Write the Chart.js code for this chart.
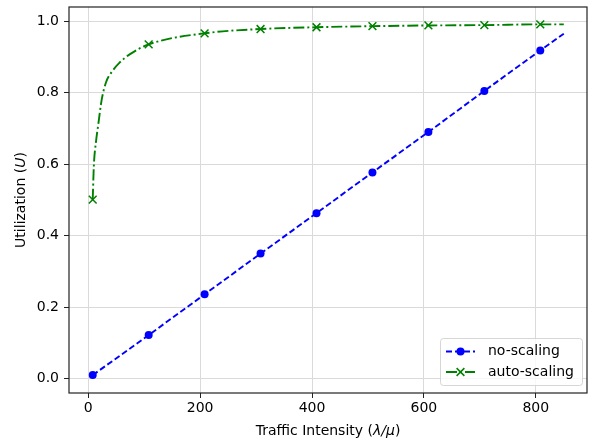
<!DOCTYPE html>
<html>
<head>
<meta charset="utf-8">
<script src="https://cdn.jsdelivr.net/npm/chart.js@4.4.1/dist/chart.umd.min.js"></script>
<style>
  html, body { margin: 0; padding: 0; background: #fff; }
  #wrap { width: 594px; height: 441px; }
</style>
</head>
<body>
<div id="wrap"><canvas id="utilChart" width="594" height="441"></canvas></div>
<script>
// intensities that carry a marker
const markerIntensity = [8, 108, 208, 308, 408, 508, 608, 708, 808];

// no-scaling utilization
const noScalingX = [8, 108, 208, 308, 408, 508, 608, 708, 808, 850];
const noScalingU = [0.010, 0.122, 0.236, 0.350, 0.463, 0.577, 0.690, 0.805, 0.918, 0.965];

// auto-scaling utilization
const autoScalingX = [8, 10, 14, 18, 24, 32, 42, 56, 74, 108, 208, 308, 408, 508, 608, 708, 808, 850];
const autoScalingU = [0.501, 0.595, 0.665, 0.712, 0.780, 0.830, 0.858, 0.884, 0.907, 0.935, 0.966, 0.978, 0.983, 0.986, 0.988, 0.989, 0.991, 0.991];

const xTicks = [0, 200, 400, 600, 800];
const yTicks = [0.0, 0.2, 0.4, 0.6, 0.8, 1.0];

const FONT = "'DejaVu Sans', sans-serif";
const FONT_SIZE = 14;
const BLUE = '#0000ff';
const GREEN = '#008000';

const toPoints = (xs, ys) => xs.map((x, i) => ({ x: x, y: ys[i] }));
const markerRadius = (xs, r) => xs.map(x => (markerIntensity.includes(x) ? r : 0));

// draw a string made of normal / italic pieces, centred on (cx, cy)
function drawMixed(ctx, parts, cx, cy) {
  ctx.save();
  let total = 0;
  parts.forEach(p => {
    ctx.font = (p.italic ? 'oblique ' : '') + FONT_SIZE + 'px ' + FONT;
    p.w = ctx.measureText(p.text).width;
    total += p.w;
  });
  let x = cx - total / 2;
  ctx.fillStyle = '#000';
  ctx.textBaseline = 'middle';
  ctx.textAlign = 'left';
  parts.forEach(p => {
    ctx.font = (p.italic ? 'oblique ' : '') + FONT_SIZE + 'px ' + FONT;
    ctx.fillText(p.text, x, cy);
    x += p.w;
  });
  ctx.restore();
}

function drawCross(ctx, x, y, h) {
  ctx.beginPath();
  ctx.moveTo(x - h, y - h); ctx.lineTo(x + h, y + h);
  ctx.moveTo(x - h, y + h); ctx.lineTo(x + h, y - h);
  ctx.stroke();
}

const framePlugin = {
  id: 'frame',
  afterDraw(chart) {
    const ctx = chart.ctx;
    const a = chart.chartArea;

    // axes box
    ctx.save();
    ctx.strokeStyle = '#222';
    ctx.lineWidth = 1.2;
    ctx.strokeRect(a.left, a.top, a.right - a.left, a.bottom - a.top);
    ctx.restore();

    // axis titles
    drawMixed(ctx, [
      { text: 'Traffic Intensity (' },
      { text: 'λ/μ', italic: true },
      { text: ')' }
    ], (a.left + a.right) / 2, 431);

    ctx.save();
    ctx.translate(21, (a.top + a.bottom) / 2);
    ctx.rotate(-Math.PI / 2);
    drawMixed(ctx, [
      { text: 'Utilization (' },
      { text: 'U', italic: true },
      { text: ')' }
    ], 0, 0);
    ctx.restore();

    // legend
    const bx = 440, by = 338, bw = 142, bh = 47;
    ctx.save();
    ctx.globalAlpha = 0.8;
    ctx.fillStyle = '#fff';
    ctx.strokeStyle = '#cccccc';
    ctx.lineWidth = 1;
    ctx.beginPath();
    ctx.roundRect(bx + 0.5, by + 0.5, bw, bh, 3);
    ctx.fill();
    ctx.stroke();
    ctx.restore();

    const rows = [
      { label: 'no-scaling', color: BLUE, dash: [6, 3], y: 351.5, marker: 'circle' },
      { label: 'auto-scaling', color: GREEN, dash: [11, 3, 2, 3], y: 372, marker: 'cross' }
    ];
    rows.forEach(r => {
      ctx.save();
      ctx.strokeStyle = r.color;
      ctx.fillStyle = r.color;
      ctx.lineWidth = 1.9;
      ctx.setLineDash(r.dash);
      ctx.beginPath();
      ctx.moveTo(446, r.y);
      ctx.lineTo(475, r.y);
      ctx.stroke();
      ctx.setLineDash([]);
      if (r.marker === 'circle') {
        ctx.beginPath();
        ctx.arc(460.5, r.y, 4, 0, Math.PI * 2);
        ctx.fill();
      } else {
        ctx.lineWidth = 1.5;
        drawCross(ctx, 460.5, r.y, 3.9);
      }
      ctx.fillStyle = '#000';
      ctx.font = FONT_SIZE + 'px ' + FONT;
      ctx.textBaseline = 'middle';
      ctx.fillText(r.label, 488, r.y);
      ctx.restore();
    });
  }
};

const ctx = document.getElementById('utilChart').getContext('2d');
new Chart(ctx, {
  type: 'line',
  data: {
    datasets: [
      {
        label: 'no-scaling',
        data: toPoints(noScalingX, noScalingU),
        borderColor: BLUE,
        backgroundColor: BLUE,
        borderWidth: 1.9,
        borderDash: [6, 3],
        pointStyle: 'circle',
        pointRadius: markerRadius(noScalingX, 4),
        pointBorderWidth: 0,
        tension: 0,
        fill: false
      },
      {
        label: 'auto-scaling',
        data: toPoints(autoScalingX, autoScalingU),
        borderColor: GREEN,
        backgroundColor: GREEN,
        borderWidth: 1.9,
        borderDash: [11, 3, 2, 3],
        pointStyle: 'crossRot',
        pointRadius: markerRadius(autoScalingX, 5.5),
        pointBorderWidth: 1.5,
        cubicInterpolationMode: 'monotone',
        fill: false
      }
    ]
  },
  options: {
    responsive: false,
    animation: false,
    devicePixelRatio: 1,
    events: [],
    layout: {
      padding: { left: 0, right: 6, top: 5, bottom: 0 }
    },
    plugins: {
      legend: { display: false },
      tooltip: { enabled: false }
    },
    scales: {
      x: {
        type: 'linear',
        min: -34.4,
        max: 891.5,
        afterBuildTicks: scale => { scale.ticks = xTicks.map(v => ({ value: v })); },
        afterFit: scale => {
          scale.height = 48;
          scale.paddingLeft = 0;
          scale.paddingRight = 0;
        },
        border: { display: false },
        grid: {
          color: '#dadada',
          lineWidth: 1,
          drawTicks: true,
          tickLength: 5,
          tickColor: '#222',
          tickWidth: 1
        },
        ticks: {
          color: '#000',
          font: { family: FONT, size: FONT_SIZE },
          padding: 2,
          maxRotation: 0,
          callback: v => String(v)
        }
      },
      y: {
        type: 'linear',
        min: -0.04,
        max: 1.0396,
        afterBuildTicks: scale => { scale.ticks = yTicks.map(v => ({ value: v })); },
        afterFit: scale => {
          scale.width = 69;
          scale.paddingTop = 0;
          scale.paddingBottom = 0;
        },
        border: { display: false },
        grid: {
          color: '#dadada',
          lineWidth: 1,
          drawTicks: true,
          tickLength: 5,
          tickColor: '#222',
          tickWidth: 1
        },
        ticks: {
          color: '#000',
          font: { family: FONT, size: FONT_SIZE },
          padding: 5,
          callback: v => Number(v).toFixed(1)
        }
      }
    }
  },
  plugins: [framePlugin]
});
</script>
</body>
</html>
